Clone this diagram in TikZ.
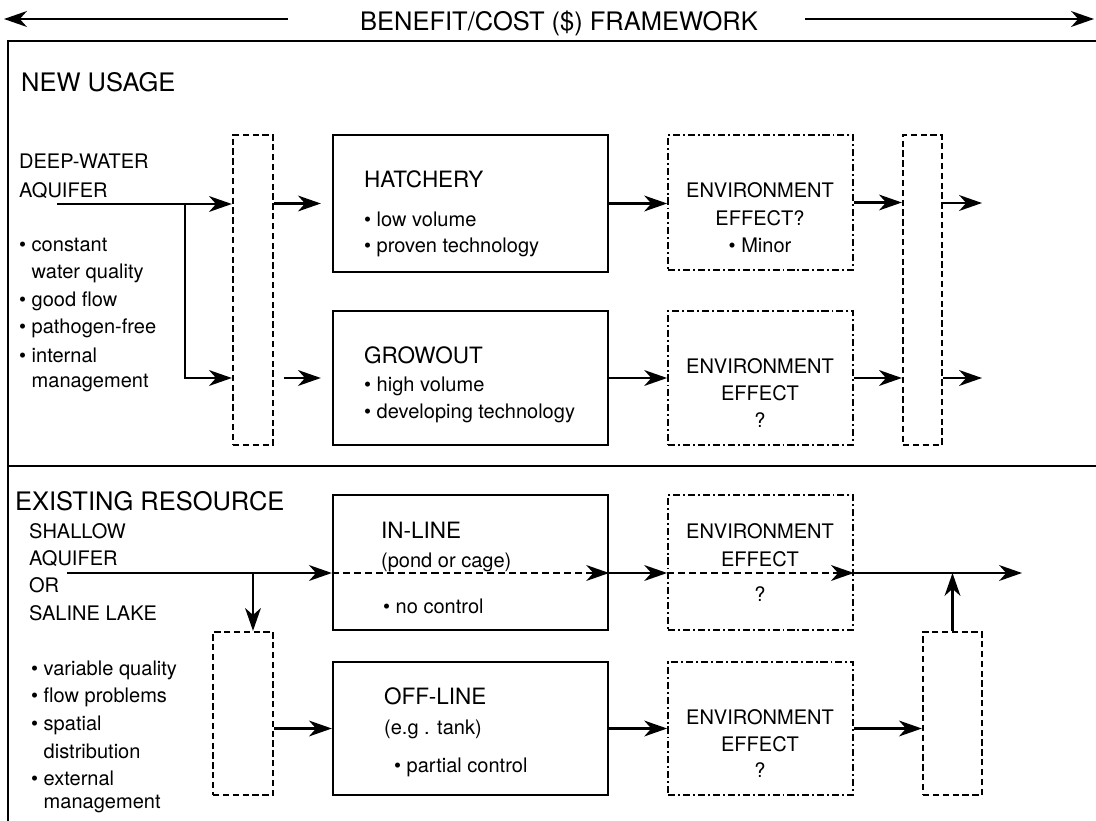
\documentclass[tikz,border=0pt]{standalone}
\usepackage{fontspec}
\setmainfont{TeX Gyre Heros}
\usetikzlibrary{arrows.meta,fit}

\begin{document}
\begin{tikzpicture}
  [x=0.02cm, y=-0.02cm,
  line width=1.3pt,
  box/.style={draw, inner sep=0pt},
  dbox/.style={draw, inner sep=0pt, dash pattern=on 3.6pt off 2pt},
  ebox/.style={draw, inner sep=0pt, line width=1pt,
    dash pattern=on 4pt off 1.7pt on 1.1pt off 1.7pt},
  arr/.style={-{Stealth[length=13pt,width=9pt,inset=4pt]}},
  darr/.style={arr, dash pattern=on 4pt off 2.3pt},
  txt/.style={anchor=base west, inner sep=0pt, font=\fontsize{11.4}{13}\selectfont},
  hd/.style={txt, font=\fontsize{12.8}{15}\selectfont},
  big/.style={txt, font=\fontsize{14.5}{17}\selectfont},
  etxt/.style={txt, anchor=base}]
  \useasboundingbox (0,0) rectangle (1096,821);

  % header and frame
  \node[big, anchor=base] (title) at (559,31) {BENEFIT/COST (\$) FRAMEWORK};
  \coordinate (hl1) at (288,19); \coordinate (hl2) at (4,19);
  \coordinate (hr1) at (805,19); \coordinate (hr2) at (1094,19);
  \draw[arr] (hl1) -- (hl2);
  \draw[arr] (hr1) -- (hr2);
  \draw (1096,41) -| (8,821);
  \draw (8,466) -- (1096,466);

  % new usage
  \node[big] (newuse) at (20,92) {NEW USAGE};
  \node[txt] (dw1) at (18,169) {DEEP-WATER};
  \node[txt] (dw2) at (18,197) {AQUIFER};
  \foreach \y/\t [count=\i] in {252/{\textbullet\ constant},
      278/{\hphantom{\textbullet\ }water quality},
      306/{\textbullet\ good flow}, 333/{\textbullet\ pathogen-free},
      362/{\textbullet\ internal}, 387/{\hphantom{\textbullet\ }management}}
    \node[txt] (dwb\i) at (18,\y) {\t};

  \node[dbox, fit={(233,135) (273,445)}] (mixA) {};
  \node[box, fit={(333,135) (608,272)}] (hatch) {};
  \node[box, fit={(333,311) (608,445)}] (grow) {};
  \node[ebox, fit={(668,135) (853,270)}] (envA) {};
  \node[ebox, fit={(668,311) (853,445)}] (envB) {};
  \node[dbox, fit={(903,135) (942,445)}] (mixB) {};

  \node[hd] (hatchT) at (363,188) {HATCHERY};
  \node[txt] (hatch1) at (363,226) {\textbullet\ low volume};
  \node[txt] (hatch2) at (363,253) {\textbullet\ proven technology};
  \node[hd] (growT) at (363,363) {GROWOUT};
  \node[txt] (grow1) at (363,391) {\textbullet\ high volume};
  \node[txt] (grow2) at (363,418) {\textbullet\ developing technology};

  \node[etxt] (envA1) at (760,197) {ENVIRONMENT};
  \node[etxt] (envA2) at (760,225) {EFFECT?};
  \node[etxt] (envA3) at (760,253) {\textbullet\ Minor};
  \node[etxt] (envB1) at (760,373) {ENVIRONMENT};
  \node[etxt] (envB2) at (760,400) {EFFECT};
  \node[etxt] (envB3) at (760,427) {?};

  \coordinate (deep) at (57,204);
  \coordinate (split1) at (185,204);
  \coordinate (outA) at (982,203);
  \coordinate (outB) at (982,378);
  \draw[arr] (deep) -- (mixA.west |- deep);
  \draw[arr] (split1) |- (mixA.west |- grow);
  \draw[arr, shorten >=0.22cm] (mixA.east |- hatch) -- (hatch.west);
  \draw[arr, shorten <=0.2cm, shorten >=0.22cm] (mixA.east |- grow) -- (grow.west);
  \draw[arr] (hatch.east) -- (envA.west |- hatch.east);
  \draw[arr] (grow.east) -- (envB.west |- grow.east);
  \draw[arr] (envA.east) -- (mixB.west |- envA.east);
  \draw[arr] (envB.east) -- (mixB.west |- envB.east);
  \draw[arr] (mixB.east |- outA) -- (outA);
  \draw[arr] (mixB.east |- outB) -- (outB);

  % existing resource
  \node[big] (exist) at (14,510) {EXISTING RESOURCE};
  \foreach \y/\t [count=\i] in {538/SHALLOW, 565/AQUIFER, 592/OR, 620/SALINE LAKE}
    \node[txt] (sh\i) at (28,\y) {\t};
  \foreach \y/\t [count=\i] in {675/{\textbullet\ variable quality},
      702/{\textbullet\ flow problems}, 730/{\textbullet\ spatial},
      758/{\hphantom{\textbullet\ }distribution}, 785/{\textbullet\ external},
      808/{\hphantom{\textbullet\ }management}}
    \node[txt] (shb\i) at (30,\y) {\t};

  \node[dbox, fit={(213,632) (273,795)}] (mixC) {};
  \node[box, fit={(333,495) (608,630)}] (inl) {};
  \node[box, fit={(333,662) (608,795)}] (offl) {};
  \node[ebox, fit={(668,495) (853,630)}] (envC) {};
  \node[ebox, fit={(668,662) (853,795)}] (envD) {};
  \node[dbox, fit={(923,632) (982,795)}] (mixD) {};

  \node[hd] (inlT) at (380,538) {IN-LINE};
  \node[txt] (inl1) at (380,567) {(pond or cage)};
  \node[txt] (inl2) at (382,613) {\textbullet\ no control};
  \node[hd] (offlT) at (383,704) {OFF-LINE};
  \node[txt] (offl1) at (383,734) {(e.g . tank)};
  \node[txt] (offl2) at (393,772) {\textbullet\ partial control};

  \node[etxt] (envC1) at (760,538) {ENVIRONMENT};
  \node[etxt] (envC2) at (760,566) {EFFECT};
  \node[etxt] (envC3) at (760,601) {?};
  \node[etxt] (envD1) at (760,724) {ENVIRONMENT};
  \node[etxt] (envD2) at (760,751) {EFFECT};
  \node[etxt] (envD3) at (760,777) {?};

  \coordinate (shallow) at (67,573);
  \coordinate (split2) at (253,573);
  \coordinate (outC) at (1022,573);
  \draw[arr] (shallow) -- (inl.west |- shallow);
  \draw[darr] (inl.west |- shallow) -- (inl.east |- shallow);
  \draw[arr] (inl.east |- shallow) -- (envC.west |- shallow);
  \draw[darr] (envC.west |- shallow) -- (envC.east |- shallow);
  \draw[arr] (envC.east |- shallow) -- (outC);
  \draw[arr] (split2) -- (split2 |- mixC.north);
  \draw[arr] (mixC.east |- offl) -- (offl.west);
  \draw[arr] (offl.east) -- (envD.west |- offl.east);
  \draw[arr] (envD.east) -- (mixD.west |- envD.east);
  \draw[arr] (mixD.north) -- (mixD.north |- outC);
\end{tikzpicture}
\end{document}
